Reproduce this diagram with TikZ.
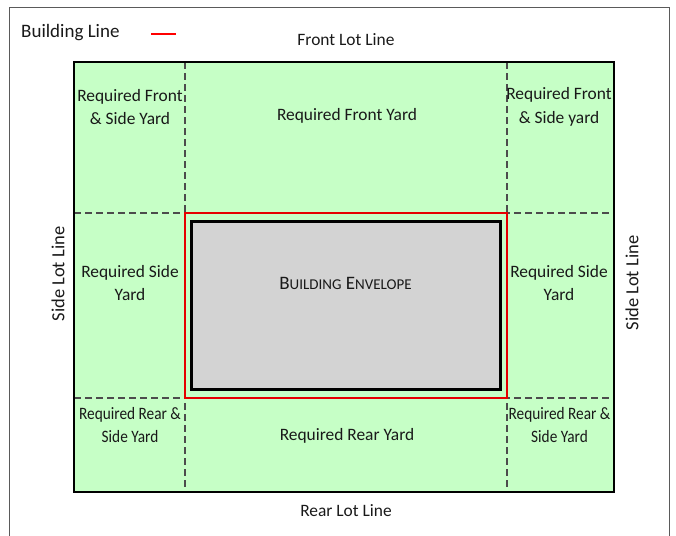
\documentclass[tikz,border=0pt]{standalone}
\usepackage{graphicx}
\usepackage{fontspec}
\setmainfont{Carlito}
\definecolor{yard}{RGB}{198,255,198}
\definecolor{env}{RGB}{211,211,211}
\definecolor{frame}{RGB}{90,90,90}
\definecolor{txt}{RGB}{25,25,25}
\newcommand{\narrowtxt}[1]{\scalebox{0.88}[1]{#1}}
\begin{document}
\begin{tikzpicture}[x=1pt,y=-1pt,
  lbl/.style={font=\fontsize{17.4}{23.5}\selectfont, text=txt, align=center, inner sep=0pt},
  dashline/.style={draw=black!70, line width=1.1pt, dash pattern=on 7pt off 4pt}]
\useasboundingbox (0,0) rectangle (676,535);
% outer frame
\draw[frame, line width=0.9pt] (9,545) -- (9,7) -- (669,7) -- (669,545);
% lot
\fill[yard] (74,62) rectangle (614,492);
\draw[dashline] (74,213) -- (614,213);
\draw[dashline] (74,398) -- (614,398);
\draw[dashline] (185,62) -- (185,492);
\draw[dashline] (507,62) -- (507,492);
\draw[black, line width=1.6pt] (74,62) rectangle (614,492);
% building line and envelope
\draw[red!90!black, line width=1.3pt] (185,213) rectangle (507,398);
\draw[black, fill=env, line width=3pt] (191,221) rectangle (500,389);
\node[lbl] (env) at (345.5,283) {\fontsize{19}{22}\selectfont B{\fontsize{15}{18}\selectfont UILDING} E{\fontsize{15}{18}\selectfont NVELOPE}};
% legend
\node[lbl, anchor=west, font=\fontsize{19}{22}\selectfont] (leg) at (21,33) {Building Line};
\coordinate (l1) at (151,34);
\coordinate (l2) at (176,34);
\draw[red, line width=1.3pt] (l1) -- (l2);
% lot lines
\node[lbl] (front) at (346,40) {Front Lot Line};
\node[lbl] (rear) at (346,511) {Rear Lot Line};
\node[lbl, rotate=90, font=\fontsize{18.5}{22}\selectfont] (sideL) at (58,274) {Side Lot Line};
\node[lbl, rotate=90, font=\fontsize{18.5}{22}\selectfont] (sideR) at (632,283) {Side Lot Line};
% yards
\node[lbl] (tl) at (130,107) {Required Front\\\& Side Yard};
\node[lbl] (tm) at (347,116) {Required Front Yard};
\node[lbl] (tr) at (559,107) {Required Front\\\& Side yard};
\node[lbl] (ml) at (130,283) {Required Side\\Yard};
\node[lbl] (mr) at (559,283) {Required Side\\Yard};
\node[lbl] (bl) at (130,425) {\narrowtxt{Required Rear \&}\\\narrowtxt{Side Yard}};
\node[lbl] (bm) at (347,436) {Required Rear Yard};
\node[lbl] (br) at (559.5,425) {\narrowtxt{Required Rear \&}\\\narrowtxt{Side Yard}};
\end{tikzpicture}
\end{document}
